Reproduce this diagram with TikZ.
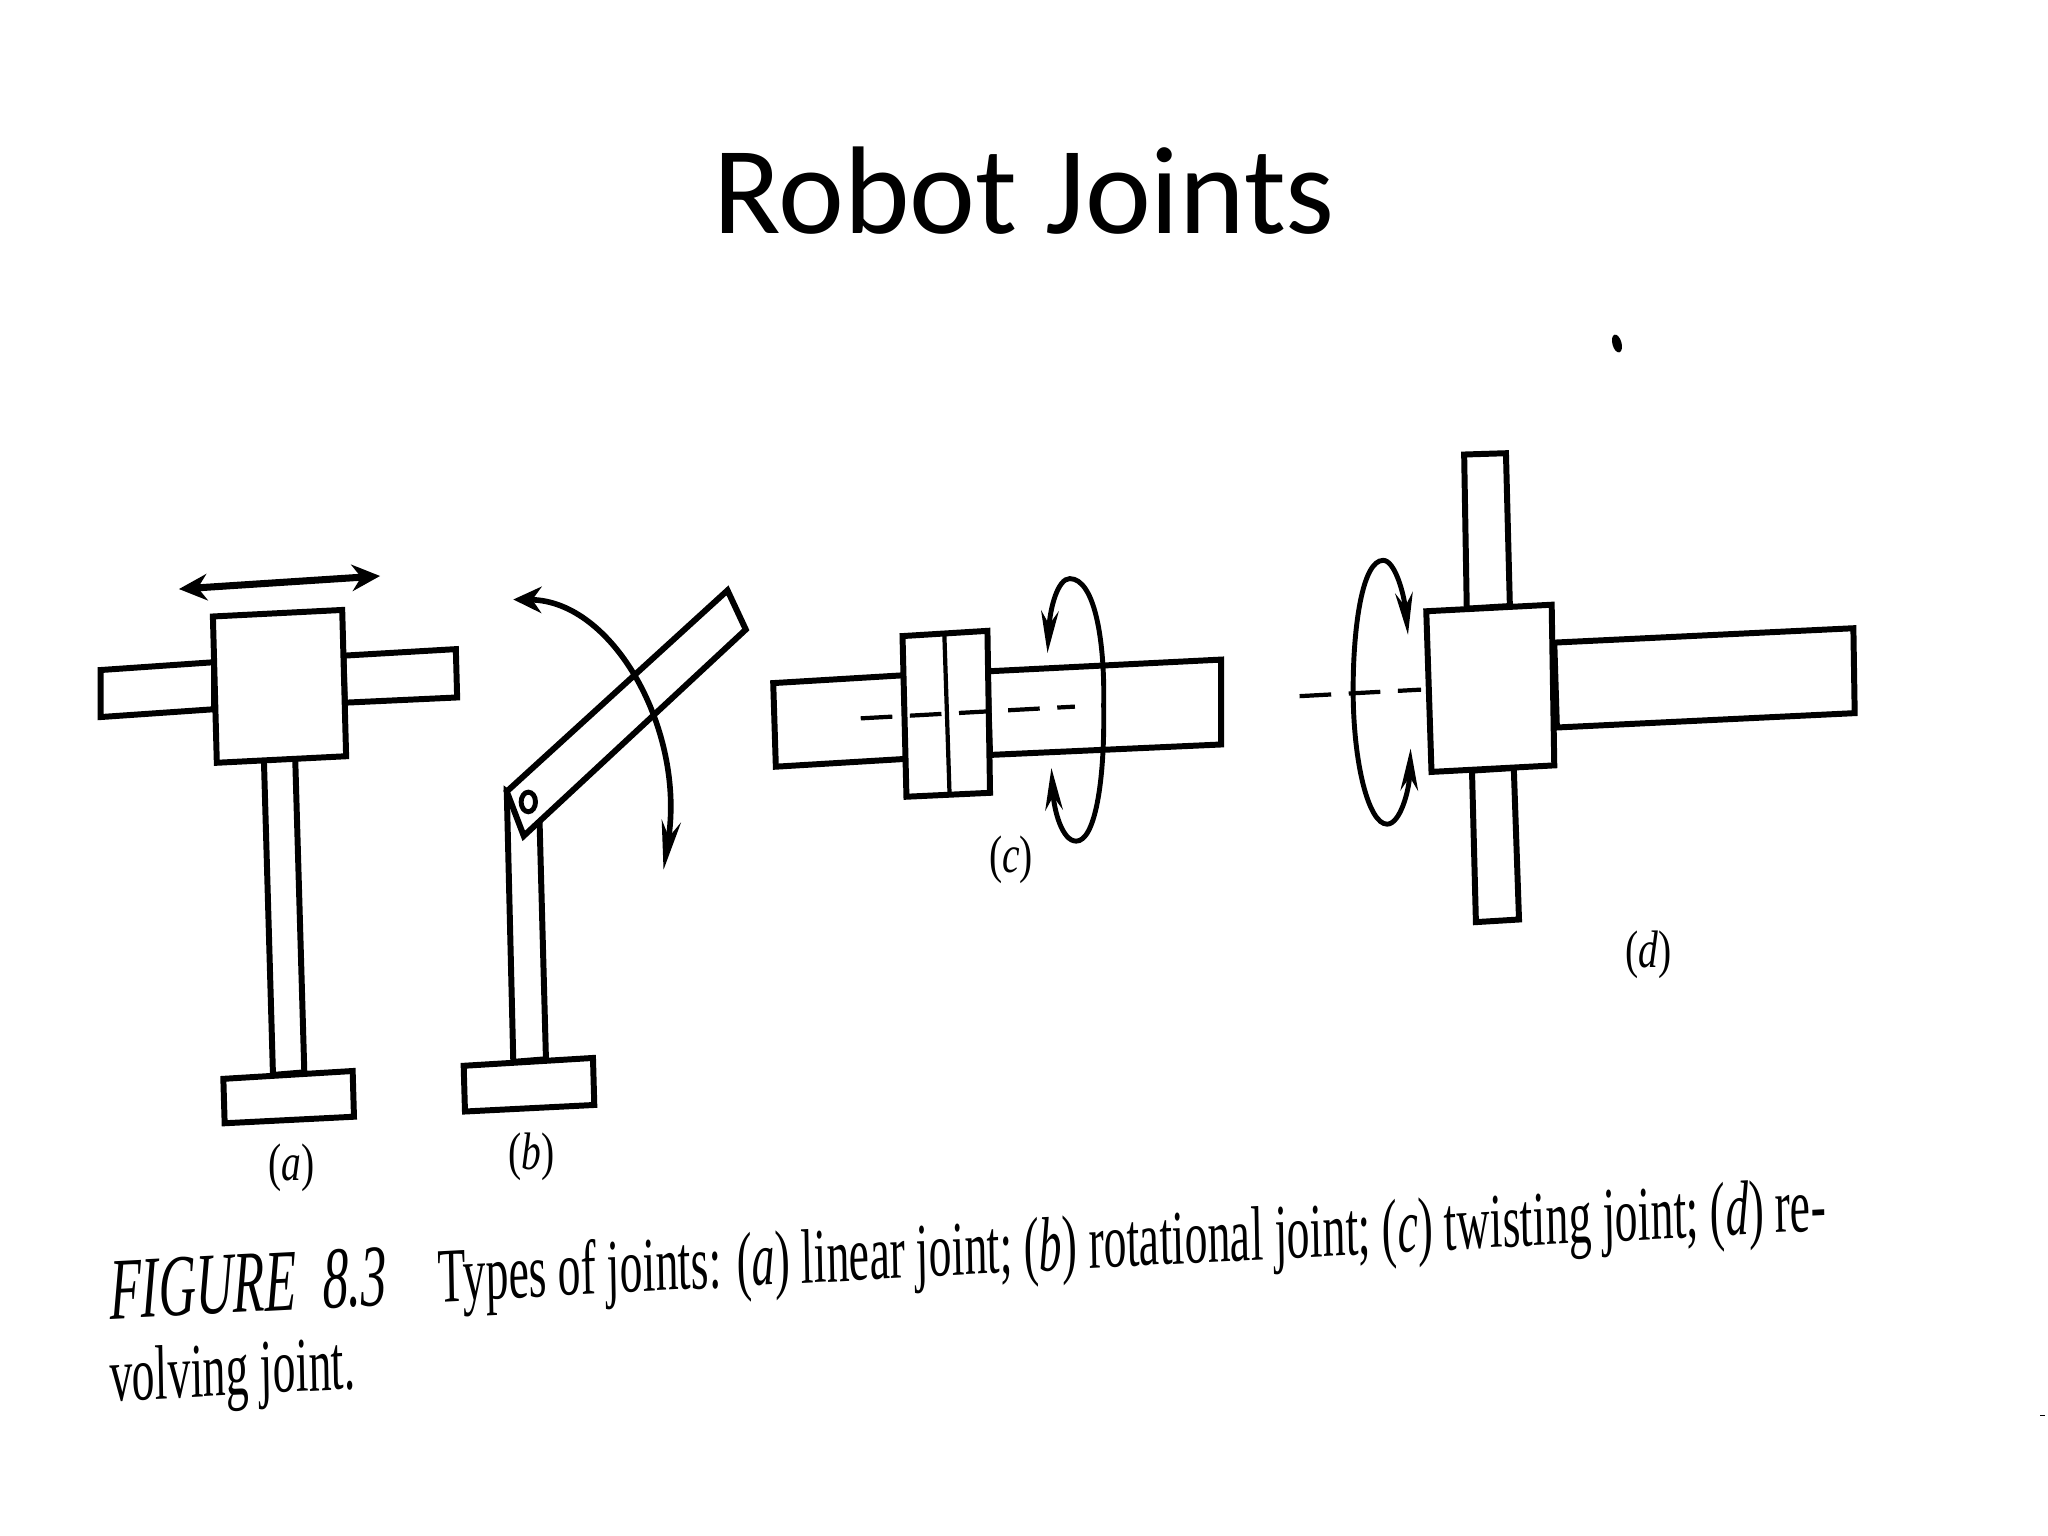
\documentclass[tikz,border=0pt]{standalone}
\usepackage{fontspec}
\setmainfont{Liberation Serif}
\newfontfamily\titlefont{Carlito}
\usetikzlibrary{arrows.meta, positioning}
\tikzset{
  part/.style={draw=black, line width=1.7pt, fill=white, line join=miter},
  motion/.style={draw=black, line width=2pt, {Stealth[length=8pt,width=7.5pt]}-{Stealth[length=8pt,width=7.5pt]}},
  swing/.style={draw=black, line width=1.6pt, {Stealth[length=8pt,width=7.5pt]}-{Stealth[length=14pt,width=5.5pt]}},
  turn/.style={draw=black, line width=1.4pt, {Stealth[length=12pt,width=5pt]}-{Stealth[length=12pt,width=5pt]}},
  axisline/.style={draw=black, line width=1.2pt, dash pattern=on 9pt off 5pt},
  partlabel/.style={font=\fontsize{15}{18}\selectfont, xscale=0.75},
  caption/.style={font=\fontsize{22}{26}\selectfont, anchor=base west, inner sep=0pt, xscale=0.59}
}

\begin{document}
\begin{tikzpicture}[x=0.013061cm, y=-0.013061cm]
\useasboundingbox[fill=white] (0,0) rectangle (1568,1176);

\node[font=\titlefont\fontsize{35.5}{40}\selectfont] (title) at (784,146) {Robot Joints};
\fill (1238,263) ellipse [x radius=3.5, y radius=7, rotate=15];
\fill (1562,1083) rectangle (1566,1084.5);

% linear joint
\draw[part] (77,513) -- (164,507) -- (164,543) -- (77,549) -- cycle;
\draw[part] (263,502) -- (349,497) -- (350,534) -- (264,538) -- cycle;
\draw[part] (202,580) -- (209,823) -- (233,821) -- (226,580) -- cycle;
\draw[part] (163,472) -- (262,467) -- (265,579) -- (166,584) -- cycle;
\draw[part] (171,826) -- (270,820) -- (271,855) -- (172,860) -- cycle;
\draw[motion] (137,451) -- (291,441);
\node[partlabel] (la) at (223,894) {(\textit{a})};

% rotational joint
\draw[part] (388,606) -- (393,813) -- (418,811) -- (413,625) -- cycle;
\draw[part] (388,606) -- (557,452) -- (571,482) -- (401,640) -- cycle;
\draw[line width=1.4pt] (404.5,614) ellipse [x radius=5.5, y radius=7.5];
\draw[part] (355,816) -- (454,810) -- (455,846) -- (356,851) -- cycle;
\draw[swing] (393,459) .. controls (470,460) and (525,560) .. (508,666);
\node[partlabel] (lb) at (407,886) {(\textit{b})};

% twisting joint
\draw[part] (592,523) -- (692,517) -- (694,581) -- (594,587) -- cycle;
\draw[part] (756,514) -- (935,505) -- (935,570) -- (758,578) -- cycle;
\draw[part] (691,487) -- (756,483) -- (758,607) -- (694,610) -- cycle;
\draw[line width=1.2pt] (723,485) -- (727,608);
\draw[axisline] (659,550) -- (823,541);
\draw[turn] (802,500) .. controls (804,465) and (810,443) .. (819,443)
  .. controls (838,443) and (846,490) .. (845,540)
  .. controls (846,600) and (838,644) .. (824,644)
  .. controls (813,644) and (807,620) .. (805,588);
\node[partlabel] (lc) at (774,658) {(\textit{c})};

% revolving joint
\draw[part] (1121,348) -- (1153,347) -- (1156,464) -- (1123,466) -- cycle;
\draw[part] (1127,590) -- (1130,706) -- (1163,704) -- (1159,588) -- cycle;
\draw[part] (1190,492) -- (1419,481) -- (1420,546) -- (1192,557) -- cycle;
\draw[part] (1092,468) -- (1188,463) -- (1190,586) -- (1096,591) -- cycle;
\draw[axisline] (995,533) -- (1088,528);
\draw[turn] (1078,486) .. controls (1075,455) and (1068,429) .. (1059,429)
  .. controls (1043,429) and (1036,480) .. (1036,528)
  .. controls (1036,585) and (1048,631) .. (1062,631)
  .. controls (1072,631) and (1079,605) .. (1080,573);
\node[partlabel] (ld) at (1262,731) {(\textit{d})};

% caption
\node[caption, rotate=1.75] (capone) at (84,1010) {{\fontsize{25}{26}\selectfont\textit{FIGURE\hspace{0.5em}8.3}}\hspace{1.12em}Types of joints: (\textit{a}) linear joint; (\textit{b}) rotational joint; (\textit{c}) twisting joint; (\textit{d}) re-};
\node[caption, rotate=1.75] (captwo) at (84,1073) {volving joint.};
\end{tikzpicture}
\end{document}
